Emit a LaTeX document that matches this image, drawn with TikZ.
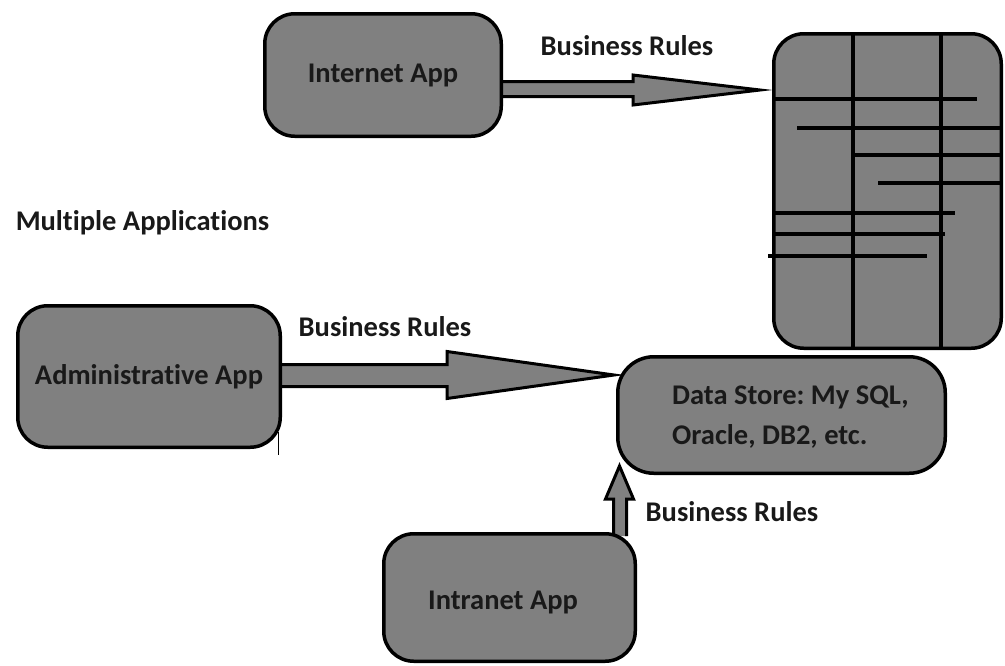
\documentclass[tikz,border=0pt]{standalone}
\usepackage{fontspec}
\setmainfont{Carlito}[Ligatures=NoCommon]
\usetikzlibrary{calc}
\definecolor{boxgray}{RGB}{128,128,128}
\pgfdeclarelayer{bg}
\pgfsetlayers{bg,main}
\frenchspacing
\begin{document}
\begin{tikzpicture}[x=1pt,y=-1pt,
  txt/.style={font=\fontsize{28.5}{40}\selectfont\bfseries\frenchspacing, text=black!90},
  box/.style={txt, draw=black, fill=boxgray, line width=3.5pt, rounded corners=30pt, inner sep=0pt},
  lbl/.style={txt, inner sep=0pt},
  blockarrow/.style={draw=black, fill=boxgray, line width=3pt, line join=miter},
  gridline/.style={draw=black, line width=4pt}]
\useasboundingbox (0,0) rectangle (1005,665);

% boxes
\node[box, minimum width=236.5pt, minimum height=122.5pt] (ia) at (383,75) {Internet App};
\node[box, minimum width=262.5pt, minimum height=141.5pt] (ad) at (149,376.5) {Administrative App};
\node[box, minimum width=327.5pt, minimum height=116.5pt, rounded corners=36pt] (ds) at (781.5,415) {};
\node[box, minimum width=251.5pt, minimum height=127.5pt] (intr) at (509.5,597.5) {};
\node[lbl] (intrtext) at (503,602) {Intranet App};
\node[box, minimum width=227.5pt, minimum height=314.5pt] (db) at (887.5,191) {};

% data store text
\node[lbl, align=left, anchor=west] (dstext) at (672,417) {Data Store: My SQL,\\Oracle, DB2, etc.};

% database grid
\draw[gridline] (853,34) -- (853,348);
\draw[gridline] (941,34) -- (941,348);
\draw[gridline] (773,99) -- (977,99);
\draw[gridline] (797,128) -- (1002,128);
\draw[gridline] (853,155) -- (1002,155);
\draw[gridline] (878,183) -- (1002,183);
\draw[gridline] (773,213) -- (955,213);
\draw[gridline] (773,234) -- (945,234);
\draw[gridline] (768,256) -- (927,256);

% small stub under administrative box
\draw[line width=1pt] (278,432) -- (278,455);

% labels
\node[lbl] (br1) at (627,46) {Business Rules};
\node[lbl] (br2) at (385,327) {Business Rules};
\node[lbl] (br3) at (732,512) {Business Rules};
\node[lbl] (multi) at (142.5,223) {Multiple Applications};

% arrow tips
\coordinate (tipA) at (760,90);
\coordinate (tipB) at (614,375);
\coordinate (tipC) at (619.5,466);

\begin{pgfonlayer}{bg}
\draw[blockarrow] ($(ia.east)+(-4,6.5)$) -- (633,81.5) -- (633,75) -- (tipA)
  -- (633,105) -- (633,96.5) -- ($(ia.east)+(-4,21.5)$);
\draw[blockarrow] ($(ad.east)+(-4,-12)$) -- (447,364.5) -- (447,351.5) -- (tipB)
  -- (447,398.5) -- (447,386.5) -- ($(ad.east)+(-4,10)$);
\draw[blockarrow] ($(intr.north)+(104,4)$) -- (613.5,499) -- (605.5,499) -- (tipC)
  -- (633.5,499) -- (626.5,499) -- ($(intr.north)+(117,4)$);
\end{pgfonlayer}
\end{tikzpicture}
\end{document}
